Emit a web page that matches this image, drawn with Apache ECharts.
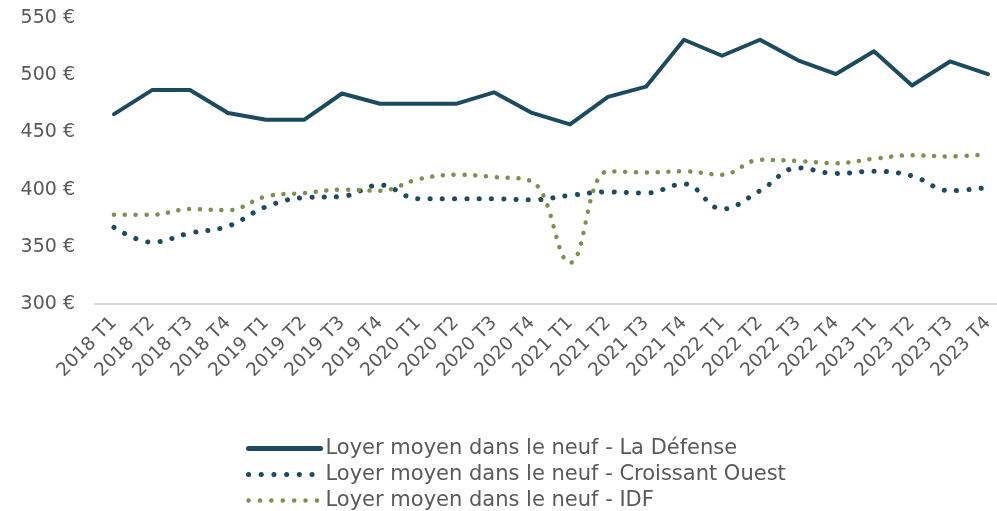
<!DOCTYPE html>
<html>
<head>
<meta charset="utf-8">
<script src="https://cdn.jsdelivr.net/npm/echarts@6/dist/echarts.min.js"></script>
<style>
  html, body { margin: 0; padding: 0; background: #fff; overflow: hidden; }
  /* un peu plus large que la fenêtre : le dernier trimestre tombe près du bord */
  #main { width: 1007px; height: 511px; }
</style>
</head>
<body>
<div id="main"></div>
<script>
// trimestres
var quarters = [
  '2018 T1', '2018 T2', '2018 T3', '2018 T4',
  '2019 T1', '2019 T2', '2019 T3', '2019 T4',
  '2020 T1', '2020 T2', '2020 T3', '2020 T4',
  '2021 T1', '2021 T2', '2021 T3', '2021 T4',
  '2022 T1', '2022 T2', '2022 T3', '2022 T4',
  '2023 T1', '2023 T2', '2023 T3', '2023 T4'
];
// loyers moyens (€/m²/an)
var laDefense = [466, 487, 487, 467, 461, 461, 484, 475, 475, 475, 485, 467,
                 457, 481, 490, 531, 517, 531, 513, 501, 521, 491, 512, 501];
var croissantOuest = [367, 354, 362, 368, 385, 393, 394, 404, 392, 392, 392, 391,
                      395, 398, 397, 405, 383, 399, 419, 414, 416, 412, 399, 402];
var idf = [378, 378, 383, 382, 394, 397, 400, 399, 409, 413, 411, 407,
           336, 416, 415, 416, 413, 426, 425, 423, 427, 430, 429, 431];
var yTicks = { min: 300, max: 550, step: 50 };

var darkBlue = '#1c4a5e';
var green = '#7b9150';
var grey = '#595959';
var font = 'DejaVu Sans';

var names = [
  'Loyer moyen dans le neuf - La Défense',
  'Loyer moyen dans le neuf - Croissant Ouest',
  'Loyer moyen dans le neuf - IDF'
];

var chart = echarts.init(document.getElementById('main'));
chart.setOption({
  animation: false,
  textStyle: { fontFamily: font },
  grid: { left: 95, right: 0, top: 18, height: 286 },
  xAxis: {
    type: 'category',
    data: quarters,
    boundaryGap: true,
    axisLine: { lineStyle: { color: '#d9d9d9', width: 2 } },
    axisTick: { show: false },
    axisLabel: { rotate: 45, color: grey, fontSize: 18.5, fontFamily: font, margin: 16, interval: 0 }
  },
  yAxis: {
    type: 'value',
    min: yTicks.min,
    max: yTicks.max,
    interval: yTicks.step,
    axisLine: { show: false },
    axisTick: { show: false },
    splitLine: { show: false },
    axisLabel: { formatter: '{value} €', color: grey, fontSize: 19, fontFamily: font, margin: 20 }
  },
  legend: {
    orient: 'vertical',
    left: 246,
    top: 437.5,
    height: 80,
    padding: 0,
    itemWidth: 72,
    itemHeight: 14,
    itemGap: 4,
    itemStyle: { opacity: 0 },
    textStyle: { color: grey, fontSize: 21, fontFamily: font, lineHeight: 22 },
    data: [
      { name: names[0], lineStyle: { width: 5 } },
      { name: names[1], lineStyle: { width: 5, type: [0.1, 12.6] } },
      { name: names[2], lineStyle: { width: 4.5, type: [0.1, 11.3] } }
    ]
  },
  series: [
    {
      name: names[0],
      type: 'line',
      data: laDefense,
      symbol: 'none',
      lineStyle: { color: darkBlue, width: 4, cap: 'round', join: 'round' },
      itemStyle: { color: darkBlue }
    },
    {
      name: names[1],
      type: 'line',
      data: croissantOuest,
      symbol: 'none',
      smooth: 0.4,
      lineStyle: { color: darkBlue, width: 5, type: [0.1, 12.2], cap: 'round' },
      itemStyle: { color: darkBlue }
    },
    {
      name: names[2],
      type: 'line',
      data: idf,
      symbol: 'none',
      smooth: 0.4,
      lineStyle: { color: green, width: 4.5, type: [0.1, 10.7], cap: 'round' },
      itemStyle: { color: green }
    }
  ]
});
</script>
</body>
</html>
